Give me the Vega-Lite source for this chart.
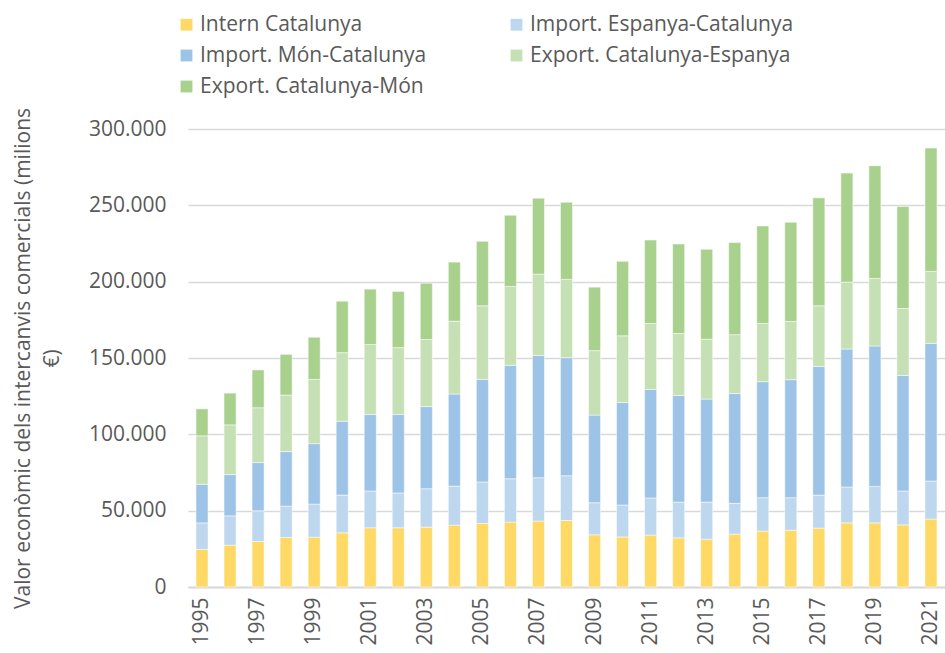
{
  "$schema": "https://vega.github.io/schema/vega-lite/v6.json",
  "width": 757,
  "height": 458,
  "autosize": {"type": "none"},
  "padding": {"left": 188, "top": 129, "right": 0, "bottom": 66},
  "background": "white",
  "config": {
    "font": "Open Sans",
    "view": {"stroke": null},
    "locale": {"number": {"decimal": ",", "thousands": ".", "grouping": [3], "currency": ["", " €"]}}
  },
  "datasets": {
    "series": [
      {"k": "a", "serie": "Intern Catalunya", "o": 1},
      {"k": "b", "serie": "Import. Espanya-Catalunya", "o": 2},
      {"k": "c", "serie": "Import. Món-Catalunya", "o": 3},
      {"k": "d", "serie": "Export. Catalunya-Espanya", "o": 4},
      {"k": "e", "serie": "Export. Catalunya-Món", "o": 5}
    ],
    "dades": [
      {"any": "1995", "a": 24600, "b": 17400, "c": 25300, "d": 31700, "e": 17700},
      {"any": "1996", "a": 27400, "b": 19200, "c": 27000, "d": 32600, "e": 20800},
      {"any": "1997", "a": 29800, "b": 20100, "c": 31600, "d": 35900, "e": 24800},
      {"any": "1998", "a": 32400, "b": 20600, "c": 35700, "d": 37000, "e": 26700},
      {"any": "1999", "a": 32600, "b": 21700, "c": 39600, "d": 42100, "e": 27600},
      {"any": "2000", "a": 35500, "b": 24700, "c": 48400, "d": 44900, "e": 33700},
      {"any": "2001", "a": 38800, "b": 24100, "c": 50100, "d": 45800, "e": 36300},
      {"any": "2002", "a": 38800, "b": 22800, "c": 51400, "d": 43800, "e": 36800},
      {"any": "2003", "a": 39200, "b": 25200, "c": 53800, "d": 43900, "e": 36900},
      {"any": "2004", "a": 40500, "b": 25600, "c": 60300, "d": 47700, "e": 38700},
      {"any": "2005", "a": 41600, "b": 27200, "c": 67200, "d": 48200, "e": 42200},
      {"any": "2006", "a": 42500, "b": 28400, "c": 74300, "d": 51700, "e": 46600},
      {"any": "2007", "a": 43200, "b": 28400, "c": 80100, "d": 53300, "e": 49700},
      {"any": "2008", "a": 43600, "b": 29300, "c": 77300, "d": 51300, "e": 50500},
      {"any": "2009", "a": 34200, "b": 21000, "c": 57400, "d": 42200, "e": 41600},
      {"any": "2010", "a": 32800, "b": 20900, "c": 67200, "d": 43600, "e": 48800},
      {"any": "2011", "a": 34000, "b": 24300, "c": 71100, "d": 43200, "e": 54700},
      {"any": "2012", "a": 32200, "b": 23400, "c": 69900, "d": 40500, "e": 58700},
      {"any": "2013", "a": 31300, "b": 24300, "c": 67500, "d": 39200, "e": 58900},
      {"any": "2014", "a": 34600, "b": 20200, "c": 72000, "d": 38500, "e": 60300},
      {"any": "2015", "a": 36600, "b": 21900, "c": 76000, "d": 38100, "e": 63900},
      {"any": "2016", "a": 37200, "b": 21300, "c": 77300, "d": 38100, "e": 65000},
      {"any": "2017", "a": 38600, "b": 21600, "c": 84300, "d": 39700, "e": 70700},
      {"any": "2018", "a": 42000, "b": 23500, "c": 90400, "d": 43800, "e": 71400},
      {"any": "2019", "a": 42000, "b": 23900, "c": 92000, "d": 44200, "e": 73800},
      {"any": "2020", "a": 40700, "b": 22200, "c": 75700, "d": 43800, "e": 66800},
      {"any": "2021", "a": 44500, "b": 24900, "c": 90200, "d": 47100, "e": 80800}
    ]
  },
  "data": {"name": "dades"},
  "transform": [
    {"fold": ["a", "b", "c", "d", "e"], "as": ["k", "valor"]},
    {"lookup": "k", "from": {"data": {"name": "series"}, "key": "k", "fields": ["serie", "o"]}}
  ],
  "mark": {"type": "bar", "stroke": "white", "strokeWidth": 0.5},
  "encoding": {
    "x": {
      "field": "any",
      "type": "ordinal",
      "scale": {"paddingInner": 0.57, "paddingOuter": 0.285},
      "axis": {
        "title": null,
        "values": ["1995", "1997", "1999", "2001", "2003", "2005", "2007", "2009", "2011", "2013", "2015", "2017", "2019", "2021"],
        "labelAngle": -90,
        "labelAlign": "right",
        "labelBaseline": "middle",
        "labelFontSize": 21,
        "labelColor": "#595959",
        "labelPadding": 10,
        "ticks": false,
        "domainColor": "#d9d9d9",
        "domainWidth": 2,
        "grid": false
      }
    },
    "y": {
      "field": "valor",
      "type": "quantitative",
      "stack": "zero",
      "scale": {"domain": [0, 300000], "nice": false},
      "axis": {
        "title": ["Valor econòmic dels intercanvis comercials (milions", "€)"],
        "titleFontSize": 21,
        "titleFontWeight": "normal",
        "titleColor": "#595959",
        "titleLineHeight": 29,
        "titlePadding": 26,
        "values": [0, 50000, 100000, 150000, 200000, 250000, 300000],
        "format": ",d",
        "labelFontSize": 21,
        "labelColor": "#595959",
        "labelPadding": 22,
        "ticks": false,
        "domain": false,
        "gridColor": "#d9d9d9",
        "gridWidth": 1.5
      }
    },
    "color": {
      "field": "serie",
      "type": "nominal",
      "scale": {
        "domain": ["Intern Catalunya", "Import. Espanya-Catalunya", "Import. Món-Catalunya", "Export. Catalunya-Espanya", "Export. Catalunya-Món"],
        "range": ["#FFD966", "#BDD7EE", "#9DC3E6", "#C5E0B4", "#A9D18E"]
      },
      "legend": {
        "title": null,
        "orient": "none",
        "direction": "horizontal",
        "legendX": -12,
        "legendY": -115,
        "columns": 2,
        "columnPadding": 79,
        "rowPadding": 9,
        "symbolType": "square",
        "symbolSize": 140,
        "symbolStrokeWidth": 0,
        "labelFontSize": 21,
        "labelColor": "#595959",
        "labelOffset": 3,
        "labelLimit": 400
      }
    },
    "order": {"field": "o", "type": "quantitative", "sort": "ascending"}
  }
}
